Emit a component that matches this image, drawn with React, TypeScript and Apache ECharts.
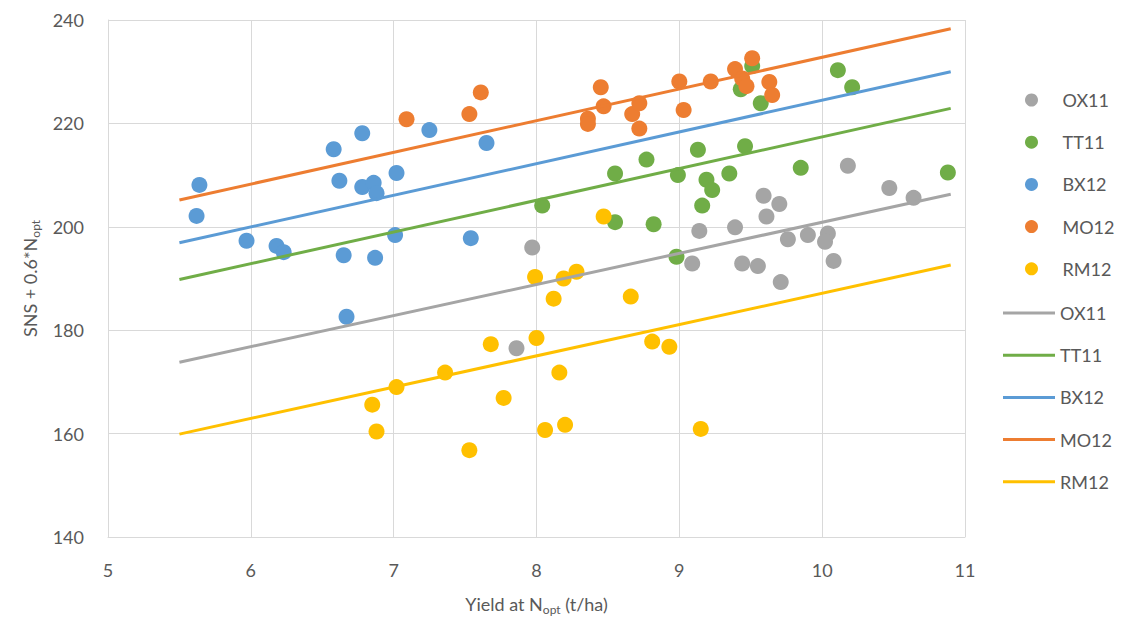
import React, { useEffect, useRef } from "react";
import * as echarts from "echarts";

const seriesNames = ["OX11", "TT11", "BX12", "MO12", "RM12"];
const colors = ["#A5A5A5", "#70AD47", "#5B9BD5", "#ED7D31", "#FFC000"];

const ox11: [number, number][] = [
  [7.97, 196.0], [7.86, 176.5], [9.09, 192.9], [9.14, 199.2], [9.39, 199.9],
  [9.44, 192.9], [9.55, 192.4], [9.59, 206.0], [9.70, 204.4], [9.61, 202.0],
  [9.71, 189.3], [9.76, 197.6], [9.90, 198.4], [10.04, 198.7], [10.02, 197.1],
  [10.08, 193.4], [10.18, 211.8], [10.47, 207.5], [10.64, 205.6],
];
const tt11: [number, number][] = [
  [9.51, 231.1], [9.43, 226.6], [9.57, 223.9], [10.11, 230.3], [10.21, 227.0],
  [9.13, 214.9], [9.46, 215.6], [8.77, 213.0], [8.55, 210.3], [8.99, 210.0],
  [9.35, 210.3], [9.19, 209.1], [9.23, 207.1], [9.85, 211.4], [10.88, 210.5],
  [9.16, 204.1], [8.04, 204.1], [8.55, 200.9], [8.82, 200.5], [8.98, 194.2],
];
const bx12: [number, number][] = [
  [5.64, 208.1], [5.62, 202.1], [5.97, 197.3], [6.18, 196.3], [6.23, 195.1],
  [6.58, 215.0], [6.62, 208.9], [6.78, 218.1], [6.78, 207.7], [6.86, 208.5],
  [6.88, 206.5], [6.65, 194.5], [6.87, 194.0], [7.01, 198.4], [7.02, 210.4],
  [7.25, 218.7], [6.67, 182.6], [7.54, 197.8], [7.65, 216.2],
];
const mo12: [number, number][] = [
  [7.09, 220.8], [7.53, 221.8], [7.61, 226.0], [8.36, 220.9], [8.36, 219.9],
  [8.45, 227.0], [8.47, 223.3], [8.67, 221.8], [8.72, 223.9], [8.72, 219.0],
  [9.00, 228.1], [9.03, 222.6], [9.22, 228.1], [9.39, 230.5], [9.51, 232.6],
  [9.44, 228.7], [9.47, 227.2], [9.63, 228.0], [9.65, 225.5],
];
const rm12: [number, number][] = [
  [8.47, 202.0], [7.99, 190.3], [8.19, 190.0], [8.28, 191.3], [8.12, 186.1],
  [8.66, 186.5], [7.68, 177.3], [8.00, 178.5], [8.81, 177.8], [8.93, 176.8],
  [7.36, 171.8], [8.16, 171.8], [7.02, 169.0], [6.85, 165.6], [7.77, 166.9],
  [6.88, 160.4], [8.06, 160.7], [8.20, 161.7], [9.15, 160.9], [7.53, 156.8],
];

// Trend lines: values at start and end x
const trendX = [5.5, 10.9];
const trendOX11 = [173.8, 206.3];
const trendTT11 = [189.8, 222.9];
const trendBX12 = [196.9, 230.0];
const trendMO12 = [205.2, 238.3];
const trendRM12 = [159.9, 192.6];

const xTicks = [5, 6, 7, 8, 9, 10, 11];
const yTicks = [140, 160, 180, 200, 220, 240];

const FONT = "Lato";
const TXT = "#595959";

export default function App() {
  const ref = useRef<HTMLDivElement>(null);
  useEffect(() => {
    if (!ref.current) return;
    const chart = echarts.init(ref.current, undefined, { renderer: "svg" });
    const scatterData = [ox11, tt11, bx12, mo12, rm12];
    const trendData = [trendOX11, trendTT11, trendBX12, trendMO12, trendRM12];
    const scatterSeries = seriesNames.map((n, i) => ({
      name: n,
      type: "scatter",
      data: scatterData[i],
      symbolSize: 16,
      itemStyle: { color: colors[i], opacity: 1 },
      z: 2,
    }));
    const lineSeries = seriesNames.map((n, i) => ({
      name: n + " trend",
      type: "line",
      data: trendX.map((x, k) => [x, trendData[i][k]]),
      symbol: "none",
      showSymbol: false,
      lineStyle: { color: colors[i], width: 3 },
      itemStyle: { color: colors[i] },
      z: 3,
    }));
    const legendText = { fontFamily: FONT, fontSize: 18, color: TXT };
    chart.setOption({
      animation: false,
      textStyle: { fontFamily: FONT },
      grid: { left: 108, top: 20, width: 857, height: 517 },
      legend: [
        {
          data: seriesNames,
          orient: "vertical",
          left: 1020,
          top: 86,
          icon: "circle",
          itemWidth: 52,
          itemHeight: 13,
          itemGap: 24.2,
          textStyle: legendText,
        },
        {
          data: seriesNames.map((n) => n + " trend"),
          orient: "vertical",
          left: 998,
          top: 299,
          icon: "rect",
          itemWidth: 52,
          itemHeight: 3,
          itemGap: 24.2,
          formatter: (name: string) => name.replace(" trend", ""),
          textStyle: legendText,
        },
      ],
      xAxis: {
        type: "value",
        min: 5,
        max: 11,
        interval: 1,
        name: "Yield at N{sub|opt} (t/ha)",
        nameLocation: "middle",
        nameGap: 56,
        nameTextStyle: {
          fontFamily: FONT,
          fontSize: 18,
          color: TXT,
          rich: {
            sub: { fontFamily: FONT, fontSize: 12, color: TXT, verticalAlign: "bottom", padding: [10, 0, 0, 0] },
          },
        },
        axisLine: { show: true, lineStyle: { color: "#D9D9D9", width: 1 } },
        axisTick: { show: false },
        splitLine: { show: true, lineStyle: { color: "#D9D9D9", width: 1 } },
        axisLabel: {
          margin: 24,
          fontFamily: FONT,
          fontSize: 18,
          color: TXT,
          formatter: (v: number) => (xTicks.includes(v) ? String(v) : ""),
        },
      },
      yAxis: {
        type: "value",
        min: 140,
        max: 240,
        interval: 20,
        name: "SNS + 0.6*N{sub|opt}",
        nameLocation: "middle",
        nameGap: 67,
        nameTextStyle: {
          fontFamily: FONT,
          fontSize: 18,
          color: TXT,
          rich: {
            sub: { fontFamily: FONT, fontSize: 12, color: TXT, verticalAlign: "bottom", padding: [10, 0, 0, 0] },
          },
        },
        axisLine: { show: true, lineStyle: { color: "#D9D9D9", width: 1 } },
        axisTick: { show: false },
        splitLine: { show: true, lineStyle: { color: "#D9D9D9", width: 1 } },
        axisLabel: {
          margin: 24,
          fontFamily: FONT,
          fontSize: 18,
          color: TXT,
          formatter: (v: number) => (yTicks.includes(v) ? String(v) : ""),
        },
      },
      series: [...scatterSeries, ...lineSeries],
    });
    return () => chart.dispose();
  }, []);
  return (
    <div
      ref={ref}
      style={{ position: "absolute", left: 0, top: 0, width: 1126, height: 626, background: "#fff" }}
    />
  );
}
